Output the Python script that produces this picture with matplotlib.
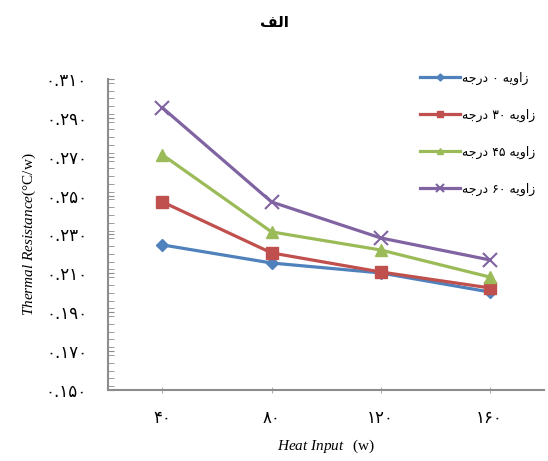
# coding:utf-8
"""
Thermal resistance vs heat input (chart "الف")
"""

import matplotlib
matplotlib.use("Agg")
import matplotlib.pyplot as plt
from matplotlib.ticker import MultipleLocator, FixedLocator

# データ
heat_input = ["۴۰", "۸۰", "۱۲۰", "۱۶۰"]
angle_0 = [0.2246, 0.2153, 0.2102, 0.2004]
angle_30 = [0.2467, 0.2205, 0.2107, 0.2025]
angle_45 = [0.2709, 0.2313, 0.2220, 0.2081]
angle_60 = [0.2951, 0.2467, 0.2282, 0.2169]
series_names = ["زاویه ۰ درجه", "زاویه ۳۰ درجه", "زاویه ۴۵ درجه", "زاویه ۶۰ درجه"]
y_ticks = [0.150, 0.170, 0.190, 0.210, 0.230, 0.250, 0.270, 0.290, 0.310]
title = "الف"

# アラビア文字の簡易シェーピング (isolated, final, initial, medial)
FORMS = {
    "ا": ("\uFE8D", "\uFE8E", None, None),
    "ل": ("\uFEDD", "\uFEDE", "\uFEDF", "\uFEE0"),
    "ف": ("\uFED1", "\uFED2", "\uFED3", "\uFED4"),
    "ز": ("\uFEAF", "\uFEB0", None, None),
    "و": ("\uFEED", "\uFEEE", None, None),
    "ی": ("\uFEEF", "\uFEF0", "\uFEF3", "\uFEF4"),
    "ه": ("\uFEE9", "\uFEEA", "\uFEEB", "\uFEEC"),
    "د": ("\uFEA9", "\uFEAA", None, None),
    "ر": ("\uFEAD", "\uFEAE", None, None),
    "ج": ("\uFE9D", "\uFE9E", "\uFE9F", "\uFEA0"),
}


def shape_word(word):
    if not any(c in FORMS for c in word):
        return word
    out = []
    for i, c in enumerate(word):
        f = FORMS[c]
        prev_joins = i > 0 and FORMS[word[i - 1]][2] is not None
        next_joins = i < len(word) - 1 and f[2] is not None
        if prev_joins and next_joins:
            out.append(f[3])
        elif prev_joins:
            out.append(f[1])
        elif next_joins:
            out.append(f[2])
        else:
            out.append(f[0])
    return "".join(reversed(out))


def fa(text):
    """右から左の文字列を表示用に変換する"""
    return " ".join(shape_word(w) for w in reversed(text.split(" ")))


def fa_num(value):
    digits = "۰۱۲۳۴۵۶۷۸۹"
    return "".join(digits[int(c)] if c.isdigit() else c for c in f"{value:.3f}")


plt.rcParams["font.family"] = ["DejaVu Sans"]
plt.rcParams["mathtext.fontset"] = "custom"
plt.rcParams["mathtext.it"] = "Liberation Serif:italic"
plt.rcParams["mathtext.rm"] = "Liberation Serif"

fig = plt.figure(figsize=(5.48, 4.61), dpi=100)
ax = fig.add_axes([0.197, 0.154, 0.796, 0.675])

colors = ["#4F81BD", "#C0504D", "#9BBB59", "#8064A2"]
markers = ["D", "s", "^", "x"]
msizes = [6, 8, 8, 10]
x = list(range(len(heat_input)))
for vals, name, c, m, ms in zip([angle_0, angle_30, angle_45, angle_60],
                                series_names, colors, markers, msizes):
    ax.plot(x, vals, color=c, lw=2.3, marker=m, ms=ms, mew=1.5 if m == "x" else 1,
            mec=c, mfc=c, label=fa(name))

ax.set_xlim(-0.5, 3.5)
ax.set_ylim(0.15, 0.31)
ax.set_xticks(x)
ax.set_xticklabels(heat_input, fontsize=12)
ax.yaxis.set_major_locator(FixedLocator(y_ticks))
ax.set_yticklabels([fa_num(v) for v in y_ticks], fontsize=12)
ax.yaxis.set_minor_locator(MultipleLocator(0.004))

for s in ["top", "right"]:
    ax.spines[s].set_visible(False)
for s in ["left", "bottom"]:
    ax.spines[s].set_color("#8c8c8c")
    ax.spines[s].set_linewidth(1.5)
ax.tick_params(axis="y", which="both", direction="in", length=4, color="#8c8c8c", pad=15)
ax.tick_params(axis="x", direction="inout", length=5, color="#b0b0b0", pad=11)

ax.set_xlabel(r"$\it{Heat\ Input}$  $\rm{(w)}$", fontsize=11, labelpad=8)
ax.set_ylabel(r"$\it{Thermal\ Resistance}$$\rm{(°C/w)}$", fontsize=11, labelpad=6)

fig.text(0.5, 0.952, fa(title), ha="center", va="center", fontsize=11, fontweight="bold")

fig.legend(loc="upper left", bbox_to_anchor=(0.755, 0.858), frameon=False,
           fontsize=9, labelspacing=1.9, handlelength=3.2, handletextpad=0.2,
           borderpad=0, markerscale=0.6)

fig.savefig("out.png", dpi=100)
